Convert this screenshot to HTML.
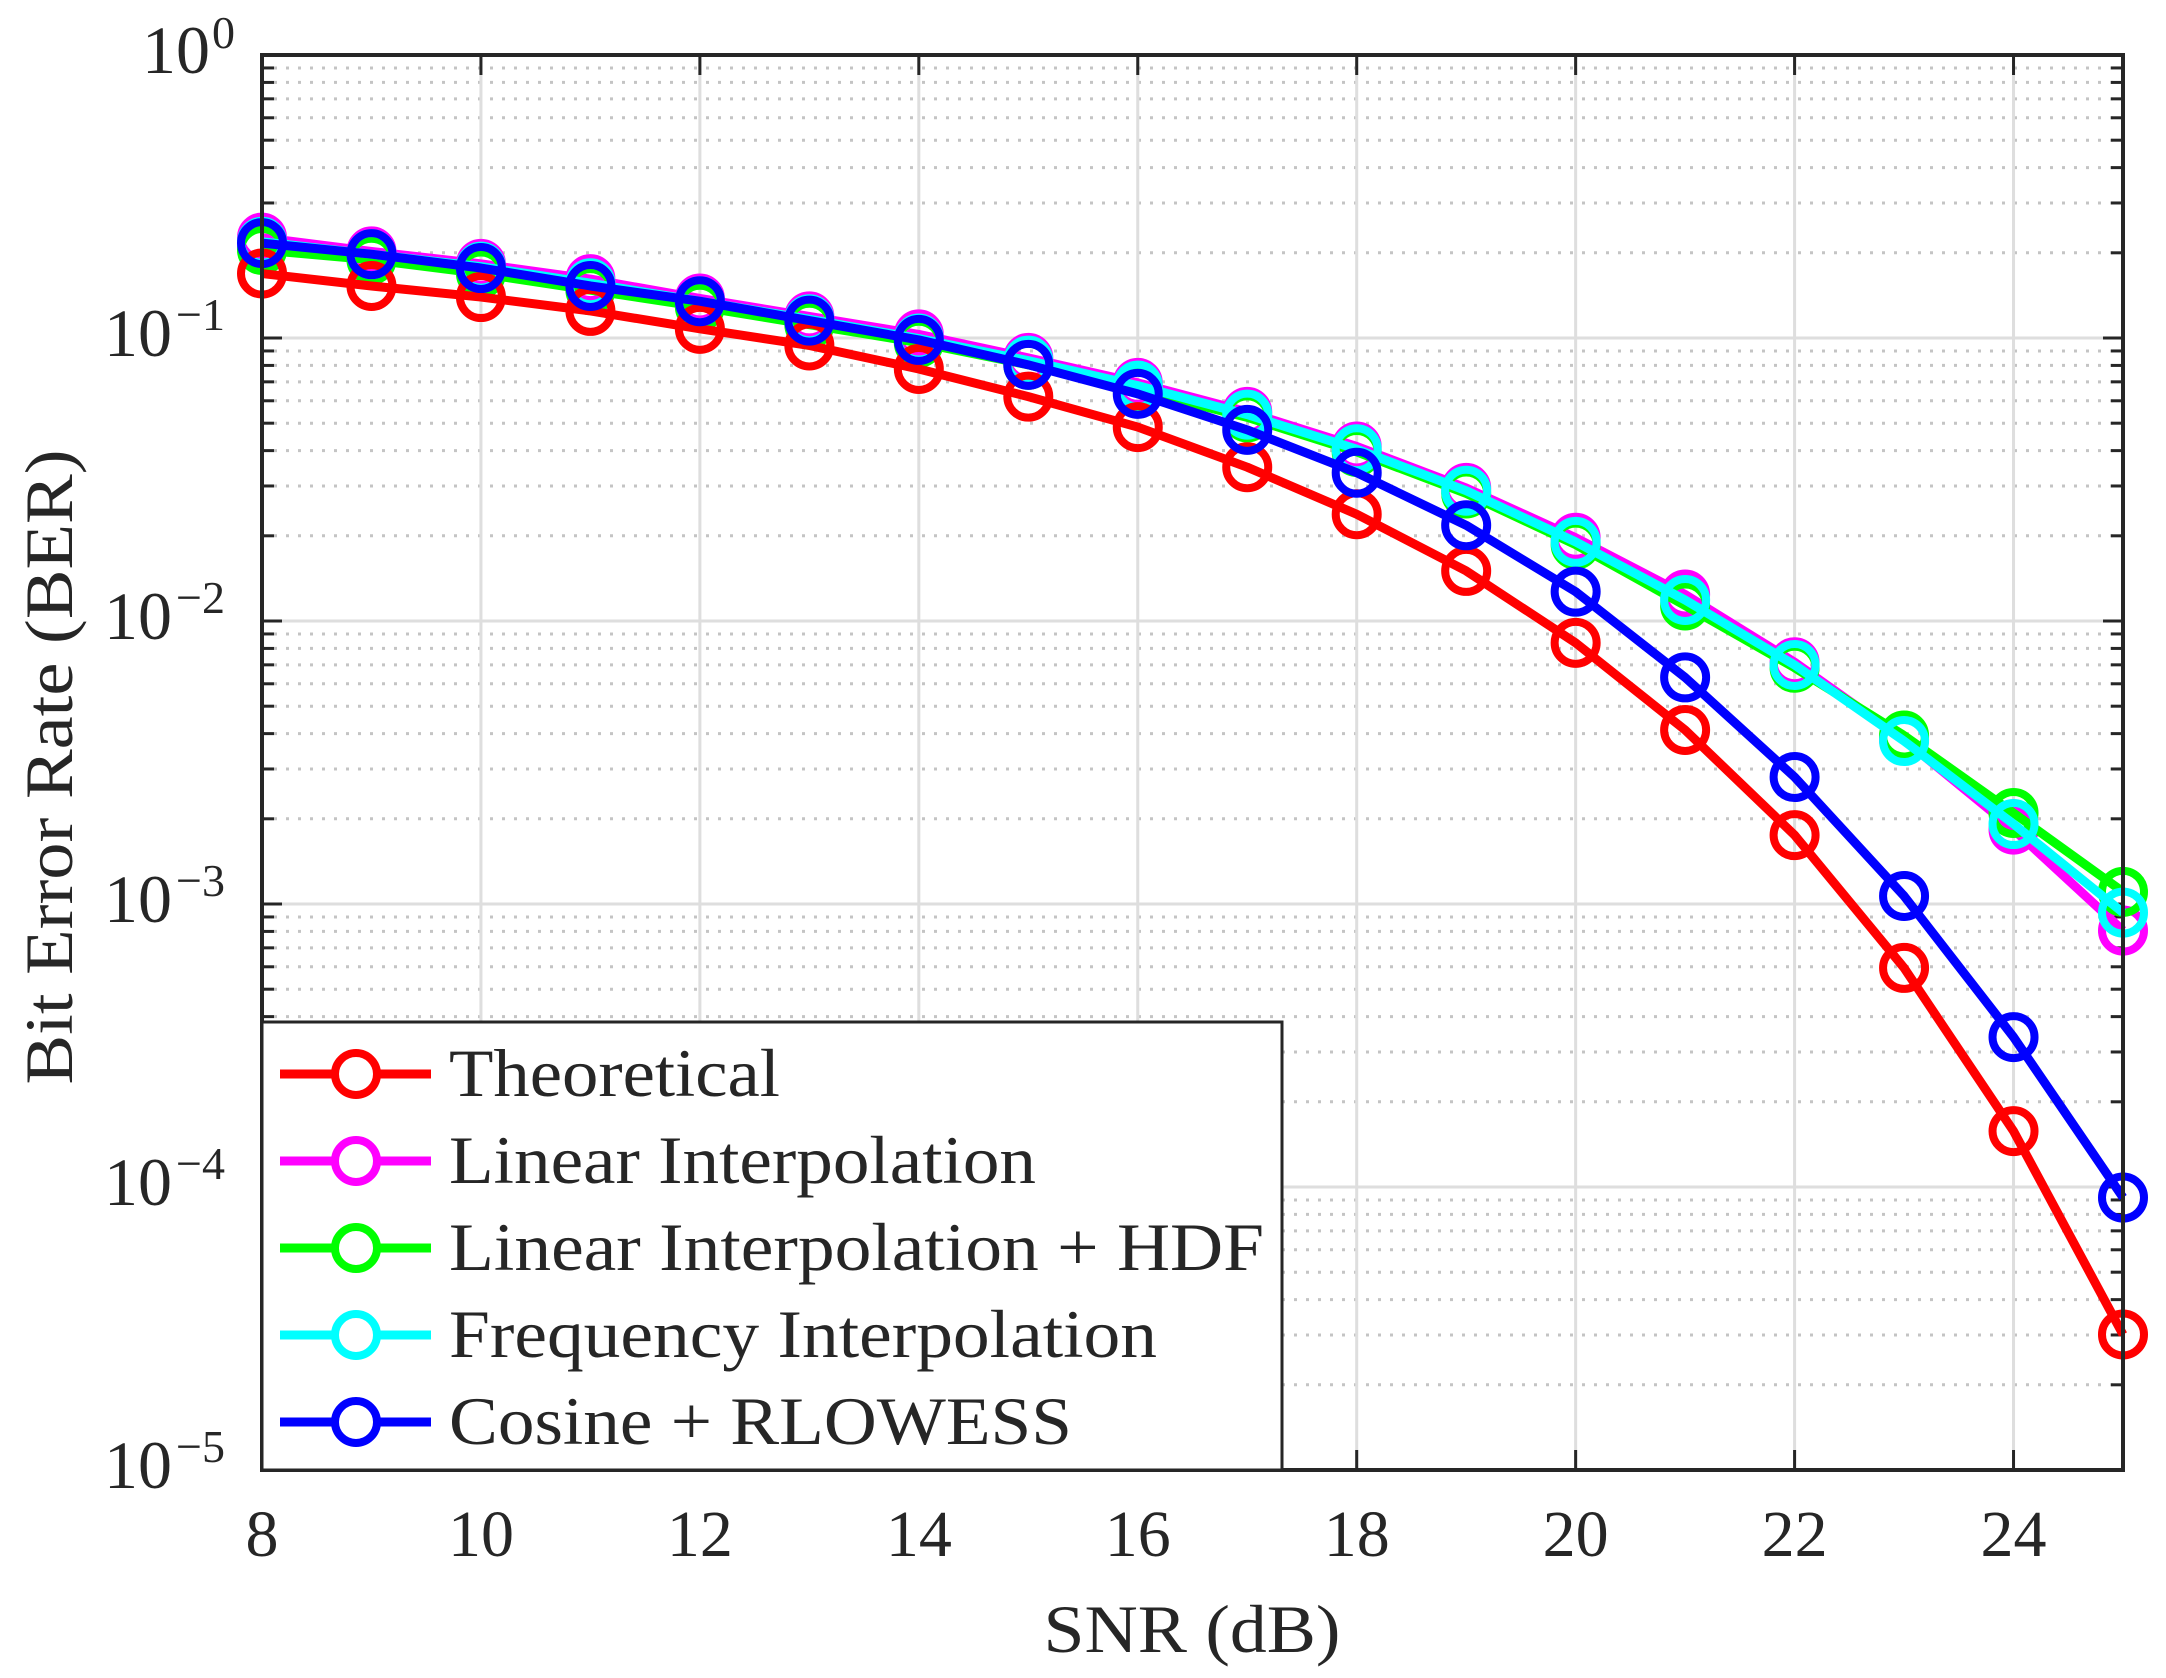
<!DOCTYPE html>
<html><head><meta charset="utf-8"><style>body{margin:0;background:#fff}svg{display:block}</style></head>
<body>
<svg id="s" width="2166" height="1678" xmlns="http://www.w3.org/2000/svg" font-family="'Liberation Serif',serif" fill="#262626"></svg>
<script>
const L=262,R=2123,T=55,B=1470,D=283;
const X=v=>L+(v-8)*(R-L)/17;
const Yd=yd=>T+(yd-40)/204.6*D;
let s='';
for(let d=0;d<5;d++)for(let k=2;k<=9;k++){const y=T+(d+1-Math.log10(k))*D;
s+=`<line x1="${L}" x2="${R}" y1="${y}" y2="${y}" stroke="#c4c4c4" stroke-width="3" stroke-dasharray="3 9"/>`;
s+=`<line x1="${L}" x2="${L+12}" y1="${y}" y2="${y}" stroke="#262626" stroke-width="3"/><line x1="${R-12}" x2="${R}" y1="${y}" y2="${y}" stroke="#262626" stroke-width="3"/>`;}
for(let d=1;d<5;d++){const y=T+d*D;s+=`<line x1="${L}" x2="${R}" y1="${y}" y2="${y}" stroke="#dedede" stroke-width="3"/><line x1="${L}" x2="${L+20}" y1="${y}" y2="${y}" stroke="#262626" stroke-width="3"/><line x1="${R-20}" x2="${R}" y1="${y}" y2="${y}" stroke="#262626" stroke-width="3"/>`;}
for(let v=10;v<=24;v+=2){const x=X(v);s+=`<line x1="${x}" x2="${x}" y1="${T}" y2="${B}" stroke="#dedede" stroke-width="3"/><line x1="${x}" x2="${x}" y1="${B-20}" y2="${B}" stroke="#262626" stroke-width="3"/><line x1="${x}" x2="${x}" y1="${T}" y2="${T+20}" stroke="#262626" stroke-width="3"/>`;}
for(let v=8;v<=24;v+=2)s+=`<text x="${X(v)}" y="1556" font-size="66" text-anchor="middle">${v}</text>`;
for(let d=0;d<=5;d++){const y=T+d*D;
if(d==0)s+=`<text x="210" y="${y+18}" font-size="68" text-anchor="end">10</text><text x="212" y="${y-7}" font-size="46">0</text>`;
else s+=`<text x="172" y="${y+18}" font-size="68" text-anchor="end">10</text><text x="176" y="${y-8}" font-size="46">−${d}</text>`;}
s+=`<text x="1192" y="1652" font-size="68" text-anchor="middle" textLength="297" lengthAdjust="spacingAndGlyphs">SNR (dB)</text>`;
s+=`<text transform="translate(72,767) rotate(-90)" font-size="68" text-anchor="middle" textLength="635" lengthAdjust="spacingAndGlyphs">Bit Error Rate (BER)</text>`;
const ser=[
['#ff00ff',[172,182,191,202,216,229,242,259,277,298,323,353,389,430,479,535,600,673]],
['#00ff00',[181,188,198,210,222,235,248,264,282,302,327,357,394,438,483,532,588,645]],
['#00ffff',[175,184,193,205,218,231,245,261,279,300,325,355,392,434,481,536,596,660]],
['#ff0000',[198,207,215,225,238,250,267,287,309,338,372,413,465,528,604,700,818,965]],
['#0000ff',[176,184,194,207,218,232,246,264,285,311,342,380,428,490,562,648,750,866]]];
const order=[3,0,1,2,4];
for(const [c,ys] of ser){const p=ys.map((y,i)=>`${X(8+i)},${Yd(y)}`).join(' ');
s+=`<polyline points="${p}" fill="none" stroke="${c}" stroke-width="9" stroke-linejoin="round"/>`;
ys.forEach((y,i)=>s+=`<circle cx="${X(8+i)}" cy="${Yd(y)}" r="21" fill="none" stroke="${c}" stroke-width="8"/>`);}
s+=`<rect x="${L}" y="${T}" width="${R-L}" height="${B-T}" fill="none" stroke="#262626" stroke-width="4"/>`;
s+=`<rect x="${L}" y="1022" width="1020" height="448" fill="#fff" stroke="#262626" stroke-width="3"/>`;
const names=['Theoretical','Linear Interpolation','Linear Interpolation + HDF','Frequency Interpolation','Cosine + RLOWESS'];
const w=[331,587,815,708,623];
order.forEach((si,i)=>{const y=1074+i*87,c=ser[si][0];
s+=`<line x1="280" x2="431" y1="${y}" y2="${y}" stroke="${c}" stroke-width="9"/><circle cx="356" cy="${y}" r="21" fill="#fff" stroke="${c}" stroke-width="8"/><text x="449" y="${y+22}" font-size="68" textLength="${w[i]}" lengthAdjust="spacingAndGlyphs">${names[i]}</text>`;});
document.getElementById('s').innerHTML=s;
</script>
</body></html>
